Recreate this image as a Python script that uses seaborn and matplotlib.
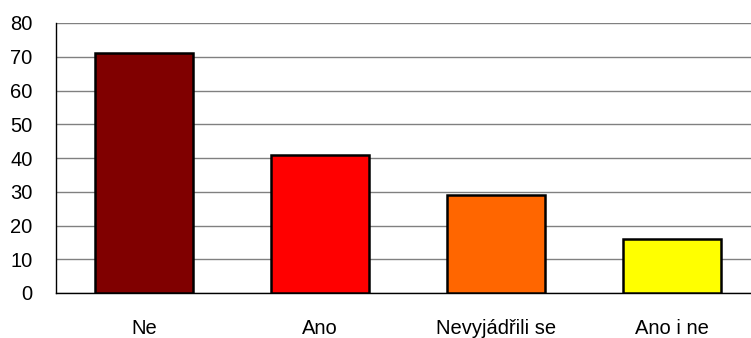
import matplotlib
matplotlib.use("Agg")
import matplotlib.pyplot as plt
import seaborn as sns
import pandas as pd

categories = ["Ne", "Ano", "Nevyjádřili se", "Ano i ne"]
values = [71, 41, 29, 16]
colors = ["#800000", "#FF0000", "#FF6600", "#FFFF00"]
yticks = [0, 10, 20, 30, 40, 50, 60, 70, 80]

sns.set_style("white")
plt.rcParams["font.family"] = ["Liberation Sans", "DejaVu Sans"]

df = pd.DataFrame({"kategorie": categories, "pocet": values})

fig = plt.figure(figsize=(7.51, 3.38), dpi=100)
ax = fig.add_axes([56 / 751, 45 / 338, 704 / 751, 270 / 338])

sns.barplot(data=df, x="kategorie", y="pocet", hue="kategorie", palette=colors,
            legend=False, width=0.557, edgecolor="black", linewidth=1.8,
            saturation=1, ax=ax, zorder=3)

ax.set_xlim(-0.5, 3.5)
ax.set_ylim(0, 80)
ax.set_yticks(yticks)
ax.set_yticklabels([str(t) for t in yticks], fontsize=14.5)
ax.yaxis.grid(True, color="#808080", linewidth=1, zorder=0)
ax.set_axisbelow(True)

ax.set_xticks(range(len(categories)))
ax.set_xticklabels(categories, fontsize=14.5)
ax.tick_params(axis="x", which="major", length=0, pad=19, labelcolor="black")
ax.set_xticks([-0.5, 0.5, 1.5, 2.5], minor=True)
ax.tick_params(axis="x", which="minor", length=6, width=1, color="black", direction="out")
ax.tick_params(axis="y", length=6, width=1, color="black", direction="out", pad=11,
               labelcolor="black")

ax.set_xlabel("")
ax.set_ylabel("")
for side in ["top", "right"]:
    ax.spines[side].set_visible(False)
for side in ["left", "bottom"]:
    ax.spines[side].set_color("black")
    ax.spines[side].set_linewidth(1)

fig.savefig("out.png", dpi=100)
